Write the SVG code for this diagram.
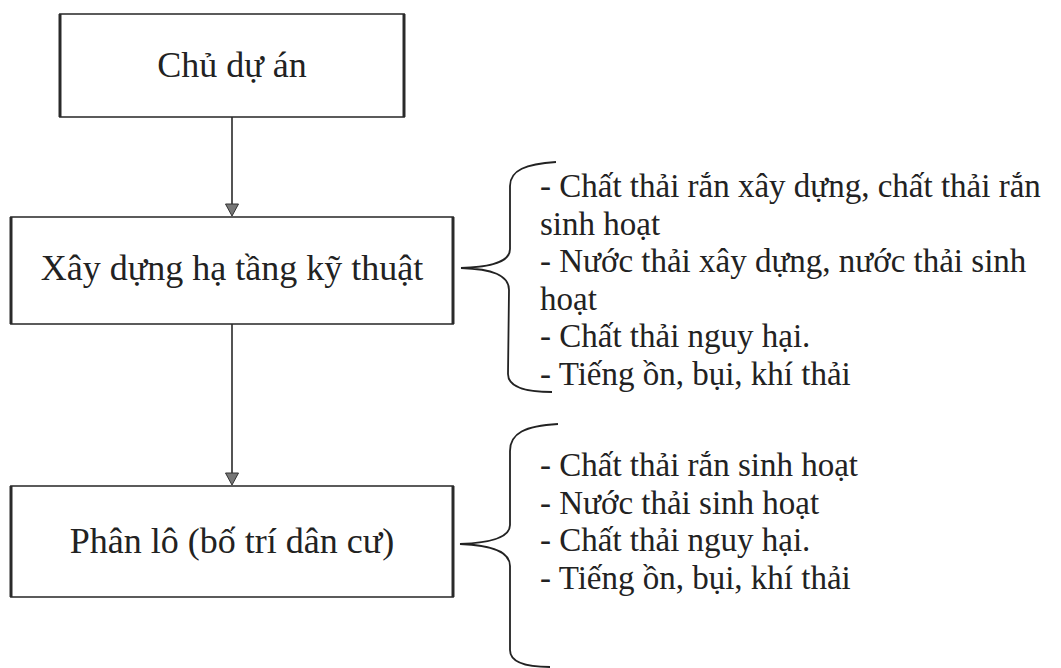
<svg xmlns="http://www.w3.org/2000/svg" width="1061" height="668" viewBox="0 0 1061 668">
<style>
.box{fill:#fff;stroke:#4a4a4a;stroke-width:1.8}
.side{stroke:#2a2a2a;stroke-width:3}
.lbl{font-family:"Liberation Serif","Times New Roman",serif;font-size:36px;fill:#222;text-anchor:middle}
.lst{font-family:"Liberation Serif","Times New Roman",serif;font-size:33px;fill:#222}
.ln{fill:none;stroke:#2a2a2a;stroke-width:1.6}
.ah{fill:#777;stroke:#333;stroke-width:1}
.br{fill:none;stroke:#222;stroke-width:1.8}
</style>
<rect width="1061" height="668" fill="#fff"/>
<g id="node-chu-du-an">
<rect class="box" x="60" y="14" width="344" height="103"/>
<line class="side" x1="60" y1="14" x2="60" y2="117"/>
<line class="side" x1="404" y1="14" x2="404" y2="117"/>
<text class="lbl" x="232" y="77">Chủ dự án</text>
</g>
<g id="node-xay-dung">
<rect class="box" x="11" y="217" width="442" height="107"/>
<line class="side" x1="11" y1="217" x2="11" y2="324"/>
<line class="side" x1="453" y1="217" x2="453" y2="324"/>
<text class="lbl" x="232" y="280">Xây dựng hạ tầng kỹ thuật</text>
</g>
<g id="node-phan-lo">
<rect class="box" x="11" y="486" width="442" height="111"/>
<line class="side" x1="11" y1="486" x2="11" y2="597"/>
<line class="side" x1="453" y1="486" x2="453" y2="597"/>
<text class="lbl" x="232" y="553">Phân lô (bố trí dân cư)</text>
</g>
<g id="connectors">
<line class="ln" x1="232" y1="117" x2="232" y2="204"/>
<path class="ah" d="M225.5,204 L238.5,204 L232,216 Z"/>
<line class="ln" x1="232" y1="324" x2="232" y2="473"/>
<path class="ah" d="M225.5,473 L238.5,473 L232,485 Z"/>
<path class="br" d="M556,162 C526,164 510,170 510,186 L510,249 C510,262 492,267 461,268 C492,269 509,275 509,290 L508,374 C508,387 525,392 552,392"/>
<path class="br" d="M558,424 C525,426 510,433 510,451 L510,525 C510,538 490,543 460,544 C490,545 510,551 510,566 L510,650 C510,662 525,667 550,667"/>
</g>
<g id="list-xay-dung">
<text class="lst" x="540" y="197">- Chất thải rắn xây dựng, chất thải rắn</text>
<text class="lst" x="540" y="234.5">sinh hoạt</text>
<text class="lst" x="540" y="272">- Nước thải xây dựng, nước thải sinh</text>
<text class="lst" x="540" y="309.5">hoạt</text>
<text class="lst" x="540" y="347">- Chất thải nguy hại.</text>
<text class="lst" x="540" y="384.5">- Tiếng ồn, bụi, khí thải</text>
</g>
<g id="list-phan-lo">
<text class="lst" x="540" y="476">- Chất thải rắn sinh hoạt</text>
<text class="lst" x="540" y="513.5">- Nước thải sinh hoạt</text>
<text class="lst" x="540" y="551">- Chất thải nguy hại.</text>
<text class="lst" x="540" y="588.5">- Tiếng ồn, bụi, khí thải</text>
</g>
</svg>
